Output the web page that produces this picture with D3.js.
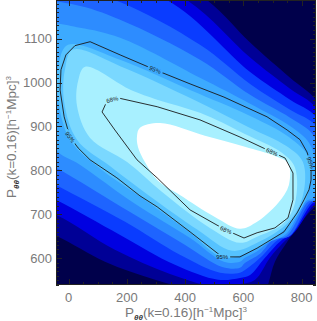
<!DOCTYPE html>
<html><head><meta charset="utf-8">
<script src="https://cdn.jsdelivr.net/npm/d3@7"></script>
<style>body{margin:0;background:#fff}svg{display:block}</style>
</head><body><svg id="c" width="317" height="321"></svg>
<script>
// ---- data ----
const xExtent = [-43, 849];
const yExtent = [539, 1188];
const xTicks = [0, 200, 400, 600, 800];
const yTicks = [600, 700, 800, 900, 1000, 1100];
const xMinorStep = 50;
const yMinorStep = 10;

// fill colours of the levels, outermost (background) to innermost
const bandColors = ["#00004b","#000096","#0000e1","#0a3cff","#1e64ff","#2d8cff","#3caaff","#55c2ff","#7ad8ff","#a8f0ff","#ffffff"];

// outer boundary of every filled level (data units)
const level1 = [[39,1371],[475,1188],[623,1091],[760,1011],[849,961],[948,847],[897,733],[849,719],[784,669],[743,630],[708,592],[684,539],[664,505],[554,505],[451,523],[297,551],[125,592],[-43,651],[-235,699],[-304,1371]];
const level2 = [[-29,1325],[406,1188],[623,1057],[760,986],[849,943],[924,835],[880,733],[842,721],[777,660],[736,635],[691,601],[640,551],[588,541],[502,535],[348,564],[159,619],[-43,699],[-235,744],[-286,1325]];
const level3 = [[-98,1280],[338,1188],[623,1024],[760,961],[849,922],[904,824],[863,733],[835,724],[767,655],[729,640],[674,601],[623,562],[588,555],[513,551],[365,585],[177,653],[-43,733],[-218,790],[-269,1280]];
const level4 = [[-166,1245],[159,1188],[451,1086],[623,997],[760,938],[849,901],[883,813],[856,733],[828,726],[760,651],[719,642],[664,605],[616,578],[588,567],[520,567],[382,608],[194,683],[-43,767],[-201,824],[-235,1234]];
const level5 = [[-98,1182],[22,1177],[177,1143],[451,1052],[623,972],[760,920],[839,881],[866,813],[846,733],[821,728],[749,651],[701,642],[657,610],[605,589],[588,578],[527,580],[400,630],[211,705],[-43,806],[-166,847],[-166,1143]];
const level6 = [[-63,1131],[39,1125],[177,1102],[451,1011],[623,952],[760,901],[825,863],[849,813],[839,737],[815,730],[746,655],[684,635],[650,617],[605,601],[588,592],[533,592],[417,646],[228,724],[39,813],[-43,847],[-98,961],[-98,1086]];
const level7 = [[-2,1086],[177,1052],[417,983],[623,924],[756,876],[825,828],[825,756],[767,683],[647,623],[533,601],[413,660],[242,742],[105,806],[5,870],[-36,963],[-33,1045]];
const level8 = [[15,1075],[190,1034],[430,961],[616,899],[746,856],[804,819],[804,742],[756,683],[647,635],[561,617],[444,664],[273,744],[142,810],[29,870],[-15,956],[-12,1031]];
const level9 = [[57,1036],[214,983],[304,961],[451,931],[605,883],[732,840],[777,806],[777,726],[739,680],[647,649],[588,635],[485,669],[321,751],[201,819],[74,874],[29,947],[33,1004]];
const level10 = [[245,897],[314,908],[468,879],[605,854],[708,833],[753,817],[756,767],[719,726],[640,680],[588,667],[502,694],[382,744],[304,778],[262,819],[238,854],[235,879]];
const levels = [level1, level2, level3, level4, level5, level6, level7, level8, level9, level10];

// confidence contours
const contour95 = [[22,1084],[74,1093],[177,1063],[297,1029],[417,997],[533,967],[681,922],[750,892],[794,870],[818,842],[832,813],[832,778],[825,756],[808,733],[784,703],[739,660],[647,623],[588,603],[527,603],[417,660],[304,717],[245,742],[166,783],[74,824],[33,851],[5,876],[-15,922],[-29,983],[-26,1029],[-9,1063]];
const contour68 = [[132,958],[170,965],[304,945],[451,915],[588,876],[681,847],[743,828],[770,794],[770,733],[753,692],[708,669],[647,658],[602,646],[537,665],[417,710],[304,783],[235,824],[159,892],[115,933]];
const labels95 = [[297,1029],[5,876],[527,603],[829,817]];
const labels68 = [[149,963],[698,842],[537,660]];

// ---- drawing ----
const svg = d3.select("#c");
const L = 56, R = 316, T = 0, B = 285;
const x = d3.scaleLinear().domain(xExtent).range([L, R]);
const y = d3.scaleLinear().domain(yExtent).range([B, T]);

const defs = svg.append("defs");
defs.append("clipPath").attr("id","plotclip").append("rect")
  .attr("x", L).attr("y", T).attr("width", R-L).attr("height", B-T);

const g = svg.append("g").attr("clip-path","url(#plotclip)");
g.append("rect").attr("x", x(xExtent[0])).attr("y", y(yExtent[1]))
  .attr("width", x(xExtent[1]) - x(xExtent[0])).attr("height", y(yExtent[0]) - y(yExtent[1]))
  .attr("fill", bandColors[0]);

const area = d3.line().x(d => x(d[0])).y(d => y(d[1])).curve(d3.curveCatmullRomClosed.alpha(0.5));
g.selectAll("path.band").data(levels).join("path").attr("class","band")
  .attr("d", area).attr("fill", (d,i) => bandColors[i+1]);

// label geometry
function labelPlacement(pt, poly){
  const px = x(pt[0]), py = y(pt[1]);
  let best = null, bd = Infinity;
  for (let i=0;i<poly.length;i++){
    const a = poly[i], b = poly[(i+1)%poly.length];
    const ax=x(a[0]), ay=y(a[1]), bx=x(b[0]), by=y(b[1]);
    const dx=bx-ax, dy=by-ay, l2=dx*dx+dy*dy;
    let t = l2 ? ((px-ax)*dx+(py-ay)*dy)/l2 : 0; t=Math.max(0,Math.min(1,t));
    const qx=ax+t*dx, qy=ay+t*dy, d=(qx-px)**2+(qy-py)**2;
    if (d<bd){bd=d; let ang=Math.atan2(dy,dx)*180/Math.PI; if(ang>90)ang-=180; if(ang<=-90)ang+=180; best={x:qx,y:qy,a:ang};}
  }
  return best;
}
const lab = [];
labels95.forEach(p => lab.push(Object.assign(labelPlacement(p, contour95), {t:"95%"})));
labels68.forEach(p => lab.push(Object.assign(labelPlacement(p, contour68), {t:"68%"})));

const mask = defs.append("mask").attr("id","lblmask").attr("maskUnits","userSpaceOnUse")
  .attr("x",0).attr("y",0).attr("width",317).attr("height",321);
mask.append("rect").attr("x",0).attr("y",0).attr("width",317).attr("height",321).attr("fill","#fff");
mask.selectAll("rect.h").data(lab).join("rect").attr("class","h")
  .attr("x",-8).attr("y",-3).attr("width",16).attr("height",6).attr("fill","#000")
  .attr("transform", d => `translate(${d.x},${d.y}) rotate(${d.a})`);

const lineGen = d3.line().x(d => x(d[0])).y(d => y(d[1])).curve(d3.curveLinearClosed);
const lines = g.append("g").attr("mask","url(#lblmask)");
[contour95, contour68].forEach(c => lines.append("path").attr("d", lineGen(c))
  .attr("fill","none").attr("stroke","#1a1a1a").attr("stroke-width",0.9));

g.selectAll("text.cl").data(lab).join("text").attr("class","cl")
  .attr("transform", d => `translate(${d.x},${d.y}) rotate(${d.a})`)
  .attr("text-anchor","middle").attr("dy","0.35em")
  .attr("font-family","Liberation Sans, Arial, sans-serif").attr("font-size",6)
  .attr("fill","#1a1a1a").text(d => d.t);

// axes: ticks on all four sides, pointing inward
const axG = svg.append("g").attr("stroke","#222").attr("stroke-width",1).attr("shape-rendering","crispEdges");
const xMinor = d3.range(Math.ceil(xExtent[0]/xMinorStep)*xMinorStep, xExtent[1], xMinorStep).filter(v => !xTicks.includes(v));
const yMinor = d3.range(Math.ceil(yExtent[0]/yMinorStep)*yMinorStep, yExtent[1], yMinorStep).filter(v => !yTicks.includes(v));
const majX = 6, minX = 3, majY = 6, minY = 3;
xTicks.forEach(v => { const X=Math.round(x(v))+0.5; axG.append("line").attr("x1",X).attr("x2",X).attr("y1",B).attr("y2",B-majX); axG.append("line").attr("x1",X).attr("x2",X).attr("y1",T).attr("y2",T+majX); });
xMinor.forEach(v => { const X=Math.round(x(v))+0.5; axG.append("line").attr("x1",X).attr("x2",X).attr("y1",B).attr("y2",B-minX); axG.append("line").attr("x1",X).attr("x2",X).attr("y1",T).attr("y2",T+minX); });
yTicks.forEach(v => { const Y=Math.round(y(v))+0.5; axG.append("line").attr("x1",L).attr("x2",L+majY).attr("y1",Y).attr("y2",Y); axG.append("line").attr("x1",R).attr("x2",R-majY).attr("y1",Y).attr("y2",Y); });
yMinor.forEach(v => { const Y=Math.round(y(v))+0.5; axG.append("line").attr("x1",L).attr("x2",L+minY).attr("y1",Y).attr("y2",Y); axG.append("line").attr("x1",R).attr("x2",R-minY).attr("y1",Y).attr("y2",Y); });
svg.append("rect").attr("x",L+0.5).attr("y",T+0.5).attr("width",R-L-1).attr("height",B-T-1)
  .attr("fill","none").attr("stroke","#222").attr("stroke-width",1);

const font = "Liberation Sans, Arial, Helvetica, sans-serif";
const tickCol = "#7a7a7a";
svg.selectAll("text.xt").data(xTicks).join("text").attr("class","xt")
  .attr("x", d => x(d)).attr("y", 302).attr("text-anchor","middle")
  .attr("font-family",font).attr("font-size",13).attr("fill",tickCol).text(d => d);
svg.selectAll("text.yt").data(yTicks).join("text").attr("class","yt")
  .attr("x", 52).attr("y", d => y(d)).attr("dy","0.36em").attr("text-anchor","end")
  .attr("font-family",font).attr("font-size",13).attr("fill",tickCol).text(d => d);

function title(sel){
  sel.attr("font-family",font).attr("font-size",13.5).attr("fill",tickCol);
  sel.append("tspan").text("P");
  sel.append("tspan").attr("dy",3).attr("font-size",8).attr("font-weight","bold").attr("font-style","italic").attr("fill","#333").text("θθ");
  sel.append("tspan").attr("dy",-3).text("(k=0.16)[h");
  sel.append("tspan").attr("dy",-5).attr("font-size",8).text("−1");
  sel.append("tspan").attr("dy",5).text("Mpc]");
  sel.append("tspan").attr("dy",-5).attr("font-size",8).text("3");
}
svg.append("text").attr("x",186).attr("y",317).attr("text-anchor","middle").call(title);
svg.append("text").attr("transform","translate(16,137) rotate(-90)").attr("text-anchor","middle").call(title);
</script></body></html>
